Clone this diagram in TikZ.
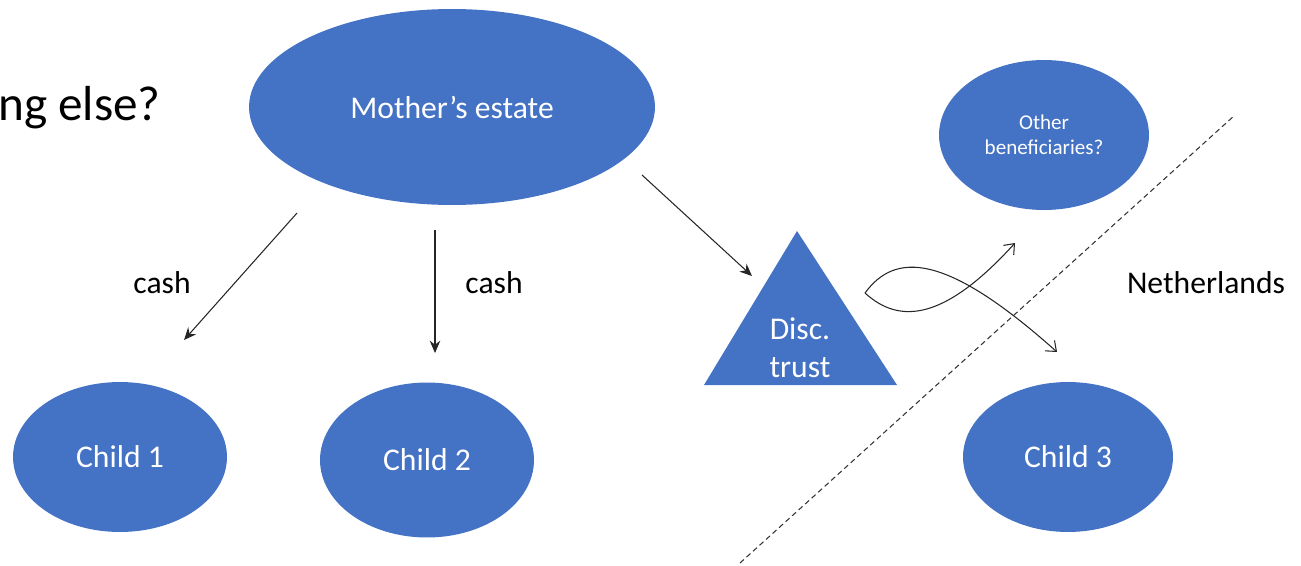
\documentclass[tikz,border=0pt]{standalone}
\usepackage{fontspec}
\setmainfont{Carlito}
\usetikzlibrary{positioning}
\usetikzlibrary{shapes.geometric}
\usetikzlibrary{arrows.meta}
\definecolor{officeblue}{HTML}{4472C4}

\begin{document}
\begin{tikzpicture}[x=0.02cm, y=-0.02cm,
    blob/.style={ellipse, fill=officeblue, text=white, inner sep=0pt,
      font=\fontsize{18}{21}\selectfont},
    plain/.style={font=\fontsize{18}{21}\selectfont},
    flow/.style={-{Stealth[length=7pt,width=6pt]}, black!85, line width=0.6pt},
    swap/.style={-{Straight Barb[length=5pt,width=8pt]}, black!85, line width=0.6pt}]
      \useasboundingbox (0,0) rectangle (1301,565);

      \node[anchor=base west, font=\fontsize{28}{32}\selectfont] (question) at (-8,120) {ng else?};

      \node[blob, minimum width=8.12cm, minimum height=3.92cm] (estate) at (452,107) {Mother’s estate};
      \node[blob, minimum width=4.2cm, minimum height=3cm, align=center,
        font=\fontsize{12}{14.5}\selectfont] (others) at (1044,135) {Other\\bene{}ficiaries?};
      \node[blob, minimum width=4.28cm, minimum height=3cm] (child1) at (120,457) {Child 1};
      \node[blob, minimum width=4.28cm, minimum height=3.1cm] (child2) at (427,460) {Child 2};
      \node[blob, minimum width=4.2cm, minimum height=3cm] (child3) at (1068,457) {Child 3};

      \fill[officeblue] (797,231) -- (897,385) -- (704,385) -- cycle;
      \node[text=white, align=center, font=\fontsize{18}{21.5}\selectfont] (trust) at (800,348) {Disc.\\trust};

      \draw[dashed, dash pattern=on 3pt off 2pt, black!80, line width=0.6pt] (740,563) -- (1235,115);

      \node[plain] (cash1) at (162,283) {cash};
      \node[plain] (cash2) at (494,283) {cash};
      \node[plain] (nl) at (1206,283) {Netherlands};

      \coordinate (a1) at (297,213);
      \coordinate (b1) at (184,340);
      \coordinate (a2) at (435,230);
      \coordinate (b2) at (435,353);
      \coordinate (a3) at (642,175);
      \coordinate (b3) at (752,276);
      \coordinate (fork) at (865,293);
      \coordinate (up) at (1015,243);
      \coordinate (down) at (1057,352);

      \draw[flow] (a1) -- (b1);
      \draw[flow] (a2) -- (b2);
      \draw[flow] (a3) -- (b3);
      \draw[swap] (fork) .. controls (895,252) and (945,252) .. (down);
      \draw[swap] (fork) .. controls (900,325) and (945,320) .. (up);
    \end{tikzpicture}
\end{document}
